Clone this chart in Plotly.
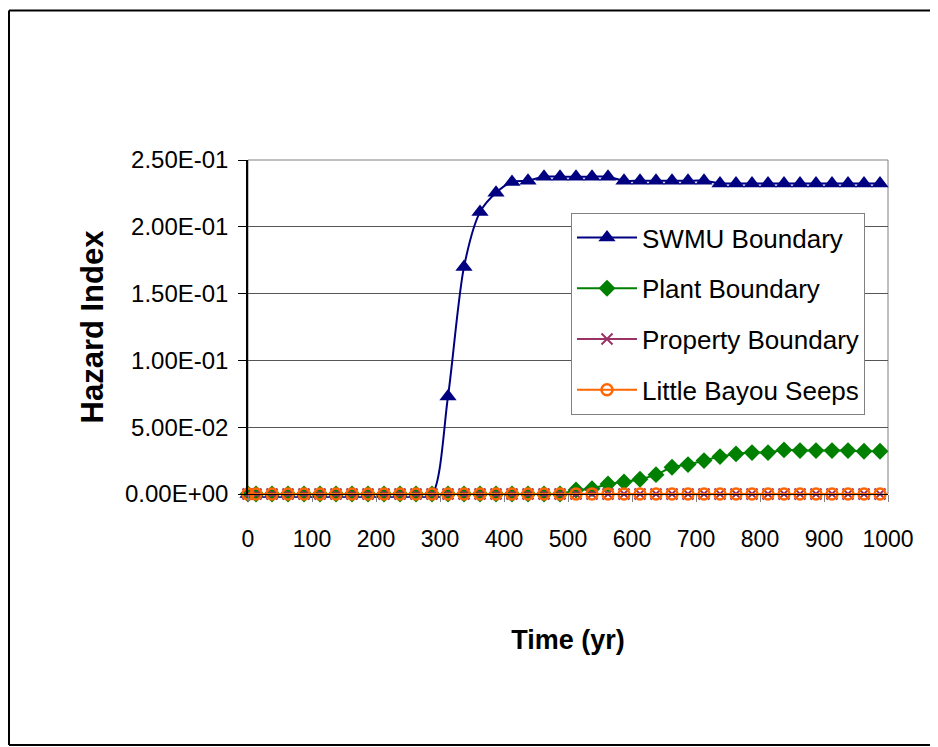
import plotly.graph_objects as go

# ---------------- data ----------------
time_yr = [0, 12.5, 37.5, 62.5, 87.5, 112.5, 137.5, 162.5, 187.5, 212.5,
           237.5, 262.5, 287.5, 312.5, 337.5, 362.5, 387.5, 412.5, 437.5, 462.5,
           487.5, 512.5, 537.5, 562.5, 587.5, 612.5, 637.5, 662.5, 687.5, 712.5,
           737.5, 762.5, 787.5, 812.5, 837.5, 862.5, 887.5, 912.5, 937.5, 962.5,
           987.5]

swmu_boundary = [0, 0, 0, 0, 0, 0, 0, 0, 0, 0,
                 0, 0, 0, 0.073, 0.170, 0.211, 0.2255, 0.2335, 0.2345, 0.2375,
                 0.2375, 0.2375, 0.2375, 0.2375, 0.2345, 0.2345, 0.2345, 0.2345, 0.2345, 0.2345,
                 0.2325, 0.2325, 0.2325, 0.2325, 0.2325, 0.2325, 0.2325, 0.2325, 0.2325, 0.2325,
                 0.2325]

plant_boundary = [0, 0, 0, 0, 0, 0, 0, 0, 0, 0,
                  0, 0, 0, 0, 0, 0, 0, 0, 0, 0,
                  0, 0.003, 0.004, 0.0075, 0.009, 0.011, 0.0145, 0.020, 0.022, 0.025,
                  0.028, 0.030, 0.031, 0.031, 0.033, 0.0325, 0.0325, 0.0325, 0.0325, 0.032,
                  0.032]

property_boundary = [0, 0, 0, 0, 0, 0, 0, 0, 0, 0,
                     0, 0, 0, 0, 0, 0, 0, 0, 0, 0,
                     0, 0, 0, 0, 0, 0, 0, 0, 0, 0,
                     0, 0, 0, 0, 0, 0, 0, 0, 0, 0,
                     0]

little_bayou_seeps = [0, 0, 0, 0, 0, 0, 0, 0, 0, 0,
                      0, 0, 0, 0, 0, 0, 0, 0, 0, 0,
                      0, 0, 0, 0, 0, 0, 0, 0, 0, 0,
                      0, 0, 0, 0, 0, 0, 0, 0, 0, 0,
                      0]

series_names = ["SWMU Boundary", "Plant Boundary", "Property Boundary", "Little Bayou Seeps"]

y_tick_values = [0, 0.05, 0.10, 0.15, 0.20, 0.25]
y_tick_labels = ["0.00E+00", "5.00E-02", "1.00E-01", "1.50E-01", "2.00E-01", "2.50E-01"]
x_tick_values = [0, 100, 200, 300, 400, 500, 600, 700, 800, 900, 1000]
x_tick_labels = ["0", "100", "200", "300", "400", "500", "600", "700", "800", "900", "1000"]

# ---------------- styling ----------------
FONT = "Liberation Sans, Arial, sans-serif"
OFF = 8                      # page body margin offset
W, H = 938 - OFF, 747 - OFF
PLOT_L, PLOT_R, PLOT_T, PLOT_B = 248, 888, 160, 494   # page coordinates
L = PLOT_L - OFF
T = PLOT_T - OFF
R = W - (PLOT_R - OFF)
B = H - (PLOT_B - OFF)
PW, PH = PLOT_R - PLOT_L, PLOT_B - PLOT_T


def px_to_paper_x(px):
    return (px - PLOT_L) / PW


def px_to_paper_y(py):
    return (PLOT_B - py) / PH


fig = go.Figure()

fig.add_trace(go.Scatter(
    x=time_yr, y=swmu_boundary, name=series_names[0], mode="lines+markers",
    line=dict(color="#000080", width=2, shape="spline", smoothing=0.8),
    marker=dict(symbol="triangle-up", size=15, color="#000080"),
    cliponaxis=False, legendgroup="a"))

fig.add_trace(go.Scatter(
    x=time_yr, y=plant_boundary, name=series_names[1], mode="lines+markers",
    line=dict(color="#008000", width=2, shape="spline", smoothing=0.8),
    marker=dict(symbol="diamond", size=13, color="#008000"),
    cliponaxis=False, legendgroup="b"))

fig.add_trace(go.Scatter(
    x=time_yr, y=property_boundary, name=series_names[2], mode="lines+markers",
    line=dict(color="#993366", width=2),
    marker=dict(symbol="x-thin", size=11, color="#993366",
                line=dict(color="#993366", width=2)),
    cliponaxis=False, legendgroup="c"))

fig.add_trace(go.Scatter(
    x=time_yr, y=little_bayou_seeps, name=series_names[3], mode="lines+markers",
    line=dict(color="#FF6600", width=2),
    marker=dict(symbol="circle-open", size=11, color="#FF6600",
                line=dict(color="#FF6600", width=2.5)),
    cliponaxis=False, legendgroup="d"))

# outer frame: left, top and bottom edges only (right edge is off the page)
frame_x0, frame_x1 = px_to_paper_x(9), px_to_paper_x(938)
frame_top, frame_bot = px_to_paper_y(10.5), px_to_paper_y(745)
frame_line = dict(color="black", width=2)
fig.add_shape(type="line", xref="paper", yref="paper", x0=frame_x0, x1=frame_x0,
              y0=frame_bot, y1=frame_top, line=frame_line, layer="below")
fig.add_shape(type="line", xref="paper", yref="paper", x0=frame_x0, x1=frame_x1,
              y0=frame_top, y1=frame_top, line=frame_line, layer="below")
fig.add_shape(type="line", xref="paper", yref="paper", x0=frame_x0, x1=frame_x1,
              y0=frame_bot, y1=frame_bot, line=frame_line, layer="below")
# plot area border
fig.add_shape(type="rect", xref="paper", yref="paper", x0=0, x1=1, y0=0, y1=1,
              line=dict(color="#808080", width=1), layer="below")

fig.update_layout(
    width=W, height=H,
    margin=dict(l=L, r=R, t=T, b=B),
    paper_bgcolor="white", plot_bgcolor="white",
    font=dict(family=FONT, color="black", size=24),
    showlegend=True,
    legend=dict(
        x=px_to_paper_x(571), y=px_to_paper_y(213), xanchor="left", yanchor="top",
        bgcolor="white", bordercolor="#808080", borderwidth=1,
        font=dict(family=FONT, size=26, color="black"),
        traceorder="grouped", tracegroupgap=14, itemwidth=60,
    ),
    xaxis=dict(
        range=[0, 1000], tickvals=x_tick_values, ticktext=x_tick_labels,
        showgrid=False, zeroline=False,
        showline=True, linecolor="black", linewidth=1,
        ticks="outside", ticklen=7, tickcolor="#808080",
        ticklabelstandoff=17,
        tickfont=dict(family=FONT, size=23),
        title=dict(text="<b>Time (yr)</b>", font=dict(family=FONT, size=27), standoff=79),
    ),
    yaxis=dict(
        range=[0, 0.25], tickvals=y_tick_values, ticktext=y_tick_labels,
        showgrid=True, gridcolor="#555555", gridwidth=1, zeroline=False,
        showline=True, linecolor="black", linewidth=1.5,
        ticks="outside", ticklen=8, tickcolor="black",
        ticklabelstandoff=5,
        tickfont=dict(family=FONT, size=24),
        title=dict(text="<b>Hazard Index</b>", font=dict(family=FONT, size=31), standoff=12),
    ),
)

fig.write_html("out.html")
